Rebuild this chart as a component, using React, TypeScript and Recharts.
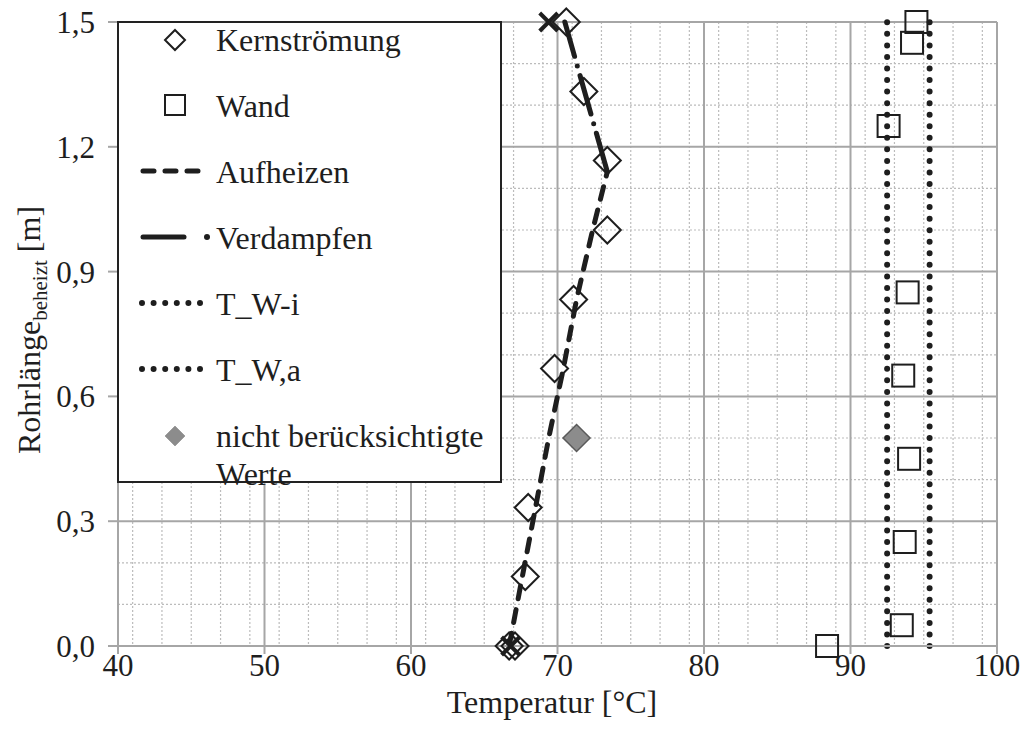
import { CartesianGrid, ComposedChart, Legend, Line, Scatter, XAxis, YAxis } from 'recharts';

const FONT = "'Liberation Serif', 'Times New Roman', serif";
const INK = '#1e1e1e';

// core flow temperatures (open diamonds)
const kernTemp = [66.7, 67.1, 67.8, 68.0, 69.8, 71.1, 73.4, 73.4, 71.8, 70.6];
const kernLen = [0, 0, 0.167, 0.333, 0.667, 0.833, 1.0, 1.167, 1.333, 1.5];

// wall temperatures (open squares)
const wandTemp = [88.4, 93.5, 93.7, 94.0, 93.6, 93.9, 92.6, 94.2, 94.5];
const wandLen = [0, 0.05, 0.25, 0.45, 0.65, 0.85, 1.25, 1.45, 1.5];

// excluded value (grey diamond)
const ignoredTemp = [71.3];
const ignoredLen = [0.5];

const aufheizenTemp = [66.7, 67.6, 68.5, 69.4, 70.4, 71.3, 72.4, 73.4];
const aufheizenLen = [0, 0.167, 0.333, 0.5, 0.667, 0.833, 1.0, 1.14];

const verdampfenTemp = [73.4, 70.5];
const verdampfenLen = [1.14, 1.5];

// start / end crosses
const crossTemp = [66.8, 69.4];
const crossLen = [0, 1.5];

const twiTemp = [92.5, 92.5];
const twaTemp = [95.4, 95.4];
const wallLen = [0, 1.5];

const xTicks = [40, 50, 60, 70, 80, 90, 100];
const yTicks = [0, 0.3, 0.6, 0.9, 1.2, 1.5];

const zip = (xs: number[], ys: number[]) => xs.map((x, i) => ({ x, y: ys[i] }));

const kernData = zip(kernTemp, kernLen);
const wandData = zip(wandTemp, wandLen);
const ignoredData = zip(ignoredTemp, ignoredLen);
const aufheizenData = zip(aufheizenTemp, aufheizenLen);
const verdampfenData = zip(verdampfenTemp, verdampfenLen);
const crossData = zip(crossTemp, crossLen);
const twiData = zip(twiTemp, wallLen);
const twaData = zip(twaTemp, wallLen);

const minorX = Array.from({ length: 61 }, (_, i) => 40 + i).filter((v) => v % 10 !== 0);
const minorY = Array.from({ length: 16 }, (_, i) => i / 10).filter((_, i) => i % 3 !== 0);

const Diamond = (p: any) => {
  const { cx, cy } = p;
  const r = 13.5;
  return (
    <path
      d={`M${cx},${cy - r}L${cx + r},${cy}L${cx},${cy + r}L${cx - r},${cy}Z`}
      fill='none'
      stroke={INK}
      strokeWidth={2}
    />
  );
};

const GreyDiamond = (p: any) => {
  const { cx, cy } = p;
  const r = 13.5;
  return (
    <path
      d={`M${cx},${cy - r}L${cx + r},${cy}L${cx},${cy + r}L${cx - r},${cy}Z`}
      fill='#8c8c8c'
      stroke='#5a5a5a'
      strokeWidth={1.5}
    />
  );
};

const Square = (p: any) => {
  const { cx, cy } = p;
  return <rect x={cx - 11} y={cy - 11} width={22} height={22} fill='none' stroke={INK} strokeWidth={2} />;
};

const Cross = (p: any) => {
  const { cx, cy } = p;
  const r = 9;
  return (
    <path
      d={`M${cx - r},${cy - r}L${cx + r},${cy + r}M${cx + r},${cy - r}L${cx - r},${cy + r}`}
      stroke={INK}
      strokeWidth={4}
    />
  );
};

const fmt = (v: number) => v.toFixed(1).replace('.', ',');

function YTitle() {
  return (
    <text transform='translate(40, 330) rotate(-90)' textAnchor='middle' fontFamily={FONT} fontSize={32} fill={INK}>
      Rohrlänge
      <tspan fontSize={21} dy={7}>beheizt</tspan>
      <tspan dy={-7}> [m]</tspan>
    </text>
  );
}

function XTitle() {
  return (
    <text x={552} y={713} textAnchor='middle' fontFamily={FONT} fontSize={32} fill={INK}>
      Temperatur [°C]
    </text>
  );
}

const rowText = (top: number, label: string) => (
  <div style={{ position: 'absolute', left: 97, top, lineHeight: '38px', whiteSpace: 'nowrap' }}>{label}</div>
);

const icon = (center: number, children: any) => (
  <svg width={80} height={30} style={{ position: 'absolute', left: 15, top: center - 15 }}>
    {children}
  </svg>
);

function LegendBox() {
  return (
    <div
      style={{
        position: 'relative',
        width: 385,
        height: 462,
        boxSizing: 'border-box',
        border: '2px solid #222',
        background: '#fff',
        fontFamily: FONT,
        fontSize: 32,
        color: INK,
      }}
    >
      {icon(16, <path d='M41,6L51,16L41,26L31,16Z' fill='none' stroke={INK} strokeWidth={2} />)}
      {rowText(-2, 'Kernströmung')}
      {icon(82, <rect x={31} y={5} width={20} height={20} fill='none' stroke={INK} strokeWidth={2} />)}
      {rowText(64, 'Wand')}
      {icon(
        148,
        <line x1={9} y1={15} x2={67} y2={15} stroke={INK} strokeWidth={5} strokeDasharray='11 11' strokeLinecap='round' />
      )}
      {rowText(130, 'Aufheizen')}
      {icon(
        214,
        <g>
          <line x1={9} y1={15} x2={50} y2={15} stroke={INK} strokeWidth={5} strokeLinecap='round' />
          <circle cx={73} cy={15} r={3} fill={INK} />
        </g>
      )}
      {rowText(196, 'Verdampfen')}
      {icon(
        280,
        <line x1={8} y1={15} x2={68} y2={15} stroke={INK} strokeWidth={6} strokeDasharray='0 11.6' strokeLinecap='round' />
      )}
      {rowText(262, 'T_W-i')}
      {icon(
        346,
        <line x1={8} y1={15} x2={68} y2={15} stroke={INK} strokeWidth={6} strokeDasharray='0 11.6' strokeLinecap='round' />
      )}
      {rowText(328, 'T_W,a')}
      {icon(412, <path d='M41,6L51,16L41,26L31,16Z' fill='#8c8c8c' stroke='#a0a0a0' strokeWidth={1} />)}
      {rowText(394, 'nicht berücksichtigte')}
      {rowText(432, 'Werte')}
    </div>
  );
}

export default function App() {
  return (
    <div style={{ position: 'absolute', left: 0, top: 0, background: '#fff' }}>
      <ComposedChart width={1022} height={746} margin={{ top: 22, right: 25, bottom: 0, left: 0 }}>
        <CartesianGrid
          horizontalValues={minorY}
          verticalValues={minorX}
          stroke='#bcbcbc'
          strokeWidth={1.2}
          strokeDasharray='2 2'
        />
        <CartesianGrid horizontalValues={yTicks} verticalValues={xTicks} stroke='#a6a6a6' strokeWidth={2} />
        <XAxis
          type='number'
          dataKey='x'
          domain={[40, 100]}
          ticks={xTicks}
          height={100}
          tickSize={8}
          tickMargin={0}
          stroke='#a6a6a6'
          strokeWidth={2}
          tick={{ fontSize: 31, fontFamily: FONT, fill: INK }}
          label={{ content: () => <XTitle /> }}
        />
        <YAxis
          type='number'
          dataKey='y'
          domain={[0, 1.5]}
          ticks={yTicks}
          width={118}
          tickSize={10}
          tickMargin={13}
          tickFormatter={fmt}
          stroke='#a6a6a6'
          strokeWidth={2}
          tick={{ fontSize: 31, fontFamily: FONT, fill: INK }}
          label={{ content: () => <YTitle /> }}
        />
        <Legend
          layout='vertical'
          align='center'
          verticalAlign='middle'
          content={() => <LegendBox />}
          wrapperStyle={{ left: 117, top: 21, width: 385, height: 462 }}
        />
        <Line
          data={twiData}
          dataKey='y'
          stroke={INK}
          strokeWidth={6}
          strokeDasharray='0 11.55'
          strokeLinecap='round'
          dot={false}
          activeDot={false}
          isAnimationActive={false}
        />
        <Line
          data={twaData}
          dataKey='y'
          stroke={INK}
          strokeWidth={6}
          strokeDasharray='0 11.55'
          strokeLinecap='round'
          dot={false}
          activeDot={false}
          isAnimationActive={false}
        />
        <Line
          data={aufheizenData}
          dataKey='y'
          stroke={INK}
          strokeWidth={5}
          strokeDasharray='13 11'
          strokeLinecap='round'
          dot={false}
          activeDot={false}
          isAnimationActive={false}
        />
        <Line
          data={verdampfenData}
          dataKey='y'
          stroke={INK}
          strokeWidth={5}
          strokeDasharray='40 10 0 10'
          strokeLinecap='round'
          dot={false}
          activeDot={false}
          isAnimationActive={false}
        />
        <Scatter data={kernData} shape={Diamond} isAnimationActive={false} />
        <Scatter data={wandData} shape={Square} isAnimationActive={false} />
        <Scatter data={ignoredData} shape={GreyDiamond} isAnimationActive={false} />
        <Scatter data={crossData} shape={Cross} isAnimationActive={false} />
      </ComposedChart>
    </div>
  );
}
